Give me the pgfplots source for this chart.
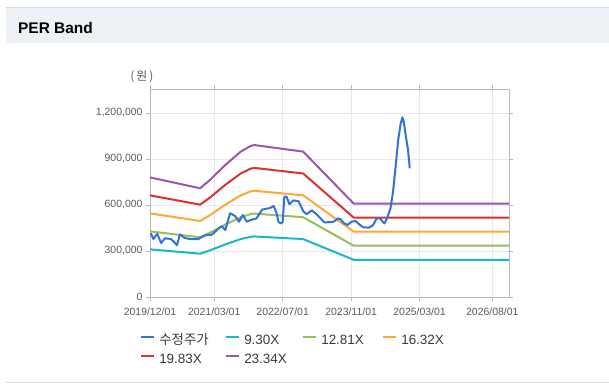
\documentclass[border=0pt]{standalone}
\usepackage{fontspec}
\setmainfont{Liberation Sans}
\newfontfamily\kr{Noto Sans CJK KR}
\usepackage{pgfplots}
\usepackage{pgfplotstable}
\pgfplotsset{compat=1.18}
\definecolor{hdr}{HTML}{EEF2F7}
\definecolor{hdrline}{HTML}{D6D9DE}
\definecolor{gridc}{HTML}{E8E8E8}
\definecolor{axisc}{HTML}{B8B8B8}
\definecolor{tickc}{HTML}{5A5A5A}
\definecolor{legc}{HTML}{3A3A3A}
\definecolor{cprice}{HTML}{2F74D6}
\definecolor{ccyan}{HTML}{1AB7CC}
\definecolor{cgreen}{HTML}{96C05A}
\definecolor{corange}{HTML}{FFA833}
\definecolor{cred}{HTML}{D9332E}
\definecolor{cpurple}{HTML}{9B55AE}

% months since 2019/12/01
\pgfplotstableread{
m     b930   b1281  b1632  b1983  b2334
0     310800 428100 545400 662700 780000
11.7  282500 389200 495800 602400 709100
14.0  304000 418800 533500 648200 763000
17.6  343100 472600 602000 731500 861000
21.2  377800 520300 662900 805500 948100
23.5  392500 540600 688700 836800 984900
24.4  394900 543900 692900 842000 991000
35.8  377800 520300 662900 805500 948100
47.6  242700 334300 426000 517600 609200
83.9  242700 334300 426000 517600 609200
}\bands

\pgfplotstableread{
m    p
0.2  415000
0.8  378000
1.7  412000
2.6  352000
3.5  383000
4.9  378000
5.6  360000
6.3  338000
7.0  409000
8.1  385000
9.4  378000
11.3 378000
12.2 393000
13.1 404000
14.4 406000
15.3 428000
16.7 463000
17.6 437000
18.7 546000
19.9 528000
20.8 491000
21.7 535000
22.6 491000
23.5 502000
24.9 513000
26.2 570000
28.0 580000
28.9 593000
29.6 546000
30.0 491000
30.5 480000
31.0 487000
31.4 654000
31.9 655000
32.6 605000
33.5 630000
34.7 625000
35.8 560000
36.6 540000
37.8 565000
38.7 545000
39.8 515000
40.7 487000
42.1 488000
43.0 492000
43.9 513000
44.6 506000
45.3 482000
46.2 470000
47.1 491000
48.0 496000
48.9 474000
49.8 455000
51.2 452000
52.1 468000
53.0 513000
53.7 513000
54.4 491000
54.8 480000
55.4 513000
56.2 578000
56.8 687000
57.4 850000
58.0 1024000
58.6 1133000
59.0 1172000
59.3 1143000
59.8 1046000
60.3 959000
60.7 839000
}\price

\begin{document}
\begin{tikzpicture}[x=1bp,y=1bp]
\path[use as bounding box] (0,0) rectangle (609,387);
\fill[white] (0,0) rectangle (609,387);
\fill[hdr] (6,344) rectangle (609,379);
\draw[hdrline, line width=1bp] (6,379) -- (609,379);
\draw[hdrline, line width=1bp] (6,5) -- (609,5);
\node[anchor=base west, inner sep=0pt, font=\bfseries\fontsize{15.5}{17}\selectfont] at (18,354) {PER Band};
\node[inner sep=0pt, text=tickc, font=\kr\fontsize{12}{14}\selectfont] at (142,310) {(\,원\,)};

\begin{axis}[
  at={(150bp,90bp)}, anchor=south west,
  scale only axis, width=359bp, height=208bp,
  xmin=0, xmax=83.9, ymin=0, ymax=1356500,
  xtick={0,15,31,47,63,80},
  xticklabels={2019/12/01,2021/03/01,2022/07/01,2023/11/01,2025/03/01,2026/08/01},
  ytick={0,300000,600000,900000,1200000},
  yticklabels={0,{300,000},{600,000},{900,000},{1,200,000}},
  scaled y ticks=false,
  grid=major, major grid style={draw=gridc, line width=0.6bp},
  axis line style={draw=axisc, line width=0.8bp},
  tick align=outside, major tick length=4bp,
  tick style={draw=axisc, line width=0.6bp},
  tick label style={font=\fontsize{10.5}{12}\selectfont, text=tickc},
  xticklabel style={yshift=-3.5bp},
  legend columns=4,
  legend style={at={(-0.036,-0.17)}, anchor=north west, draw=none, fill=none,
    font=\fontsize{13.5}{15}\selectfont, text=legc, row sep=5.5bp,
    nodes={inner sep=0pt, text height=10bp, text depth=3bp},
    /tikz/every odd column/.append style={column sep=4bp},
    /tikz/every even column/.append style={column sep=0bp}},
  legend cell align=left,
  legend image code/.code={\draw[#1] (0bp,4bp) -- (13bp,4bp);},
  every axis plot/.append style={line width=2bp, line join=round},
]
\addlegendimage{cprice, line width=2bp}
\addlegendentry{\makebox[66bp][l]{\kr 수정주가}}
\addplot[ccyan, no markers] table[x=m, y=b930] {\bands};
\addlegendentry{\makebox[58bp][l]{9.30X}}
\addplot[cgreen, no markers] table[x=m, y=b1281] {\bands};
\addlegendentry{\makebox[61bp][l]{12.81X}}
\addplot[corange, no markers] table[x=m, y=b1632] {\bands};
\addlegendentry{16.32X}
\addplot[cred, no markers] table[x=m, y=b1983] {\bands};
\addlegendentry{\makebox[66bp][l]{19.83X}}
\addplot[cpurple, no markers] table[x=m, y=b2334] {\bands};
\addlegendentry{\makebox[58bp][l]{23.34X}}
\addplot[cprice, no markers, forget plot] table[x=m, y=p] {\price};
\end{axis}
\end{tikzpicture}
\end{document}
